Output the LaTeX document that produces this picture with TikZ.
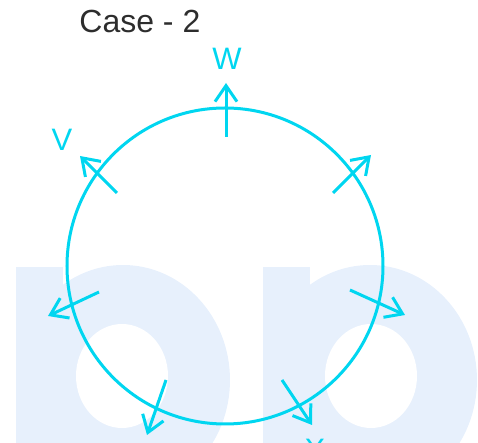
\documentclass[tikz,border=0pt]{standalone}
\usepackage{fontspec}
\setmainfont{Liberation Sans}
\usepackage{tikz}
\usetikzlibrary{arrows.meta,positioning}
\usepackage{xcolor}
\definecolor{casecyan}{RGB}{0,214,240}
\definecolor{casetext}{RGB}{45,45,45}
\definecolor{markblue}{RGB}{231,240,252}
\tikzstyle{force} = [line width=1.5pt,->,>={Straight Barb[length=8pt,width=11pt]},color=casecyan]
\tikzstyle{ring} = [circle, draw=casecyan, line width=1.5pt, minimum size=158pt, inner sep=0pt]
\tikzstyle{forcelabel} = [text=casecyan, font=\fontsize{15.5}{18}\selectfont, inner sep=0pt, anchor=base]

\begin{document}
\begin{tikzpicture}[x=0.5pt, y=-0.5pt]
\useasboundingbox (0,0) rectangle (478,443);
% background mark
\fill[markblue] (16,267) rectangle (63,460);
\fill[markblue] (123,380) ellipse [x radius=53.5pt, y radius=57.5pt];
\fill[white] (122,376) ellipse [x radius=23pt, y radius=26pt];
\fill[markblue] (263,267) rectangle (310,460);
\fill[markblue] (370,380) ellipse [x radius=53.5pt, y radius=57.5pt];
\fill[white] (371,376) ellipse [x radius=23pt, y radius=26pt];

% title
\node (title) [anchor=base west, inner sep=0pt, text=casetext, font=\fontsize{16}{19}\selectfont] at (79,33) {Case - 2};

% wheel
\node (wheel) [ring] at (225,266) {};

% forces
\coordinate (wtail) at (226,137);
\coordinate (whead) at (226,83);
\coordinate (vtail) at (117,193);
\coordinate (vhead) at (80,156);
\coordinate (netail) at (333,193);
\coordinate (nehead) at (371,155);
\coordinate (etail) at (350,290);
\coordinate (ehead) at (405,315);
\coordinate (wltail) at (99,292);
\coordinate (wlhead) at (48,316);
\coordinate (sltail) at (166,380);
\coordinate (slhead) at (147,435);
\coordinate (xtail) at (282,380);
\coordinate (xhead) at (312,425);

\draw[force] (wtail) -- (whead);
\draw[force] (vtail) -- (vhead);
\draw[force] (netail) -- (nehead);
\draw[force] (etail) -- (ehead);
\draw[force] (wltail) -- (wlhead);
\draw[force] (sltail) -- (slhead);
\draw[force] (xtail) -- (xhead);

% labels
\node (wlabel) [forcelabel] at (227,70) {W};
\node (vlabel) [forcelabel] at (62,151) {V};
\node (xlabel) [forcelabel] at (315,461) {X};
\end{tikzpicture}
\end{document}
